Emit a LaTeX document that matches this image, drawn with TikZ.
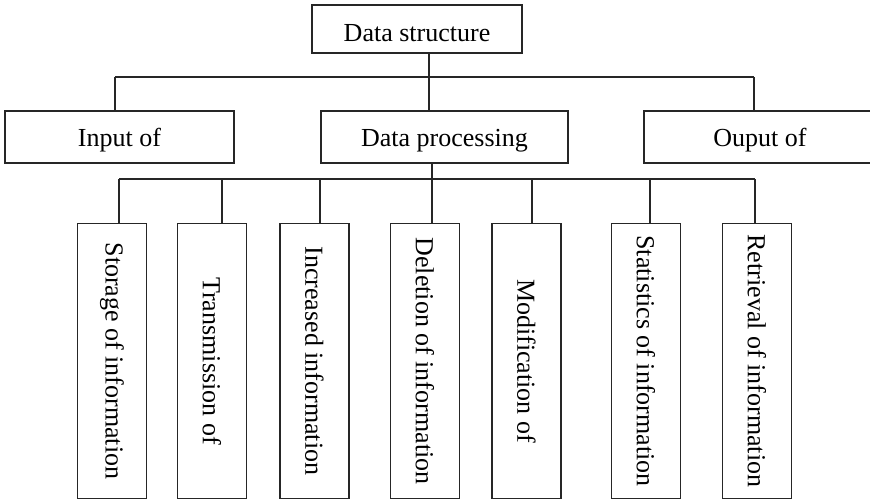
\documentclass[tikz,border=0pt]{standalone}
\usepackage{fontspec}
\setmainfont{Liberation Serif}
\begin{document}
\begin{tikzpicture}[x=1pt,y=-1pt,
  every node/.style={font=\fontsize{26}{30}\selectfont},
  box/.style={draw=black!85, line width=1.2pt, rectangle, inner sep=0pt, fill=white},
  hbox/.style={box, minimum height=52pt, text height=24pt, text depth=6pt},
  vbox/.style={box, minimum width=69pt, minimum height=275.5pt},
  conn/.style={draw=black!85, line width=1.2pt}]
\useasboundingbox (0,0) rectangle (870,501);
\clip (0,0) rectangle (870,501);
\fill[white] (0,0) rectangle (870,501);
% top
\node[box, minimum width=210pt, minimum height=48pt, text height=30pt, text depth=5pt] (top) at (417,29) {Data structure};
% second row
\node[hbox, minimum width=229pt] (inp) at (119.5,137) {Input of};
\node[hbox, minimum width=247pt] (dp) at (444.5,137) {Data processing};
\node[hbox, minimum width=232pt] (out) at (760,137) {Ouput of};
% third row
\node[vbox] (b1) at (112,361) {\rotatebox{-90}{Storage of information}};
\node[vbox] (b2) at (212,361) {\rotatebox{-90}{Transmission of}};
\node[vbox] (b3) at (314.5,361) {\rotatebox{-90}{Increased information}};
\node[vbox] (b4) at (425,361) {\rotatebox{-90}{Deletion of information}};
\node[vbox] (b5) at (526.5,361) {\rotatebox{-90}{Modification of}};
\node[vbox] (b6) at (646,361) {\rotatebox{-90}{Statistics of information}};
\node[vbox] (b7) at (757,361) {\rotatebox{-90}{Retrieval of information}};
% upper bus
\coordinate (ul) at (115,77);
\coordinate (uc) at (429,77);
\coordinate (ur) at (754,77);
\draw[conn] (ul) -- (ur);
\draw[conn] (uc |- top.south) -- (uc |- dp.north);
\draw[conn] (ul) -- (ul |- inp.north);
\draw[conn] (ur) -- (ur |- out.north);
% lower bus
\coordinate (j1) at (119,179);
\coordinate (j2) at (222,179);
\coordinate (j3) at (320,179);
\coordinate (j4) at (432,179);
\coordinate (j5) at (532,179);
\coordinate (j6) at (650,179);
\coordinate (j7) at (755,179);
\draw[conn] (j1) -- (j7);
\draw[conn] (j4 |- dp.south) -- (j4);
\draw[conn] (j1) -- (j1 |- b1.north);
\draw[conn] (j2) -- (j2 |- b2.north);
\draw[conn] (j3) -- (j3 |- b3.north);
\draw[conn] (j4) -- (j4 |- b4.north);
\draw[conn] (j5) -- (j5 |- b5.north);
\draw[conn] (j6) -- (j6 |- b6.north);
\draw[conn] (j7) -- (j7 |- b7.north);
\end{tikzpicture}
\end{document}
